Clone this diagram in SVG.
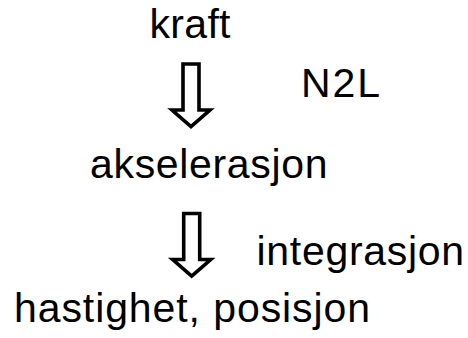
<svg xmlns="http://www.w3.org/2000/svg" width="468" height="338" viewBox="0 0 468 338">
  <style>
    .lbl { font-family: "Liberation Sans", Arial, sans-serif; font-size: 41px; fill: #000; }
    .arrow { fill: #fff; stroke: #000; stroke-width: 3.6; stroke-linejoin: miter; stroke-miterlimit: 10; }
  </style>
  <defs>
    <!-- hollow block arrow pointing down, origin at top-centre of the shaft -->
    <polygon id="blockArrow" points="-8,0 8,0 8,46 19,46 0,62.5 -19,46 -8,46"/>
  </defs>
  <rect width="468" height="338" fill="#fff"/>

  <g id="connectors">
    <use href="#blockArrow" class="arrow" x="191" y="64"/>
    <use href="#blockArrow" class="arrow" x="191.7" y="213.5"/>
  </g>

  <g id="kraft"><text class="lbl" x="149.5" y="38" textLength="81" lengthAdjust="spacing">kraft</text></g>
  <g id="n2l"><text class="lbl" x="301" y="97" textLength="79" lengthAdjust="spacing">N2L</text></g>
  <g id="akselerasjon"><text class="lbl" x="90" y="178" textLength="237.5" lengthAdjust="spacing">akselerasjon</text></g>
  <g id="integrasjon"><text class="lbl" x="256.5" y="265" textLength="207.5" lengthAdjust="spacing">integrasjon</text></g>
  <g id="hastighet-posisjon"><text class="lbl" x="14" y="322" textLength="356" lengthAdjust="spacing">hastighet, posisjon</text></g>
</svg>
